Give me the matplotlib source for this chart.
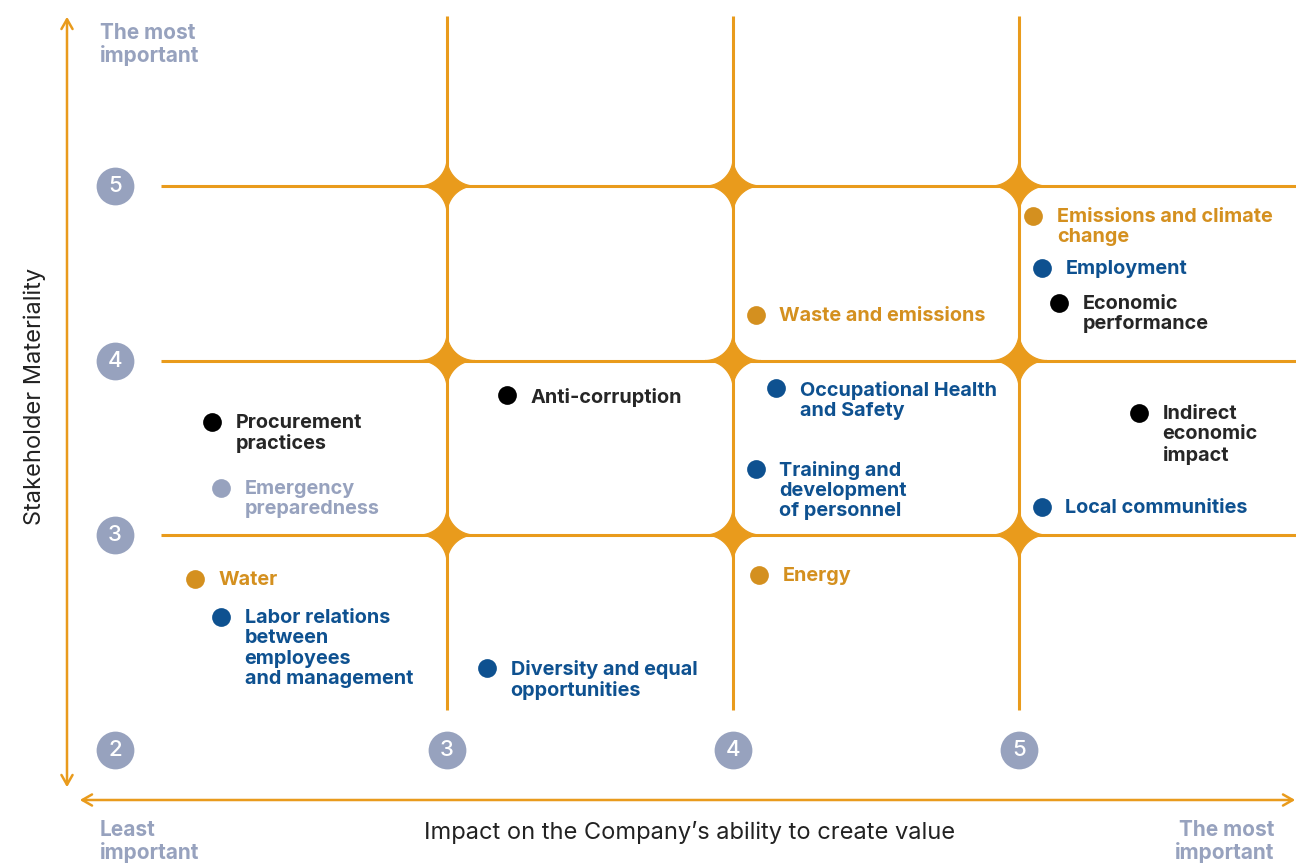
import numpy as np
import matplotlib
matplotlib.use("Agg")
import matplotlib.pyplot as plt
from matplotlib.patches import Polygon

plt.rcParams['font.family'] = ['Inter', 'DejaVu Sans']

# topics on the materiality matrix
topics = [
    "Emissions and climate\nchange", "Employment", "Economic\nperformance",
    "Waste and emissions", "Occupational Health\nand Safety",
    "Training and\ndevelopment\nof personnel", "Energy", "Anti-corruption",
    "Procurement\npractices", "Emergency\npreparedness", "Water",
    "Labor relations\nbetween\nemployees\nand management",
    "Diversity and equal\nopportunities", "Indirect\neconomic\nimpact",
    "Local communities",
]
impact = [5.05, 5.08, 5.14, 4.08, 4.15, 4.08, 4.09, 3.21, 2.18, 2.21, 2.12,
          2.21, 3.14, 5.42, 5.08]
stakeholder = [4.83, 4.53, 4.33, 4.26, 3.84, 3.38, 2.77, 3.80, 3.65, 3.27,
               2.75, 2.53, 2.24, 3.70, 3.16]
group = ["env", "social", "econ", "env", "social", "social", "env", "econ",
         "econ", "other", "env", "social", "social", "econ", "social"]

grid_vals = [3, 4, 5]
badge_labels = ["2", "3", "4", "5"]

ORANGE = "#E99B1C"
dot_col = {"env": "#D4901F", "social": "#0E5190", "econ": "#000000", "other": "#97A2BE"}
txt_col = {"env": "#D4901F", "social": "#0E5190", "econ": "#262626", "other": "#97A2BE"}
GREY = "#97A2BE"

PX_X = 286.0   # pixels per unit
PX_Y = 174.5

fig = plt.figure(figsize=(12.96, 8.63), dpi=100)
ax = fig.add_axes([0, 0, 1, 1])
ax.set_xlim(4 - 733 / PX_X, 4 + 563 / PX_X)
ax.set_ylim(3 - 328 / PX_Y, 3 + 535 / PX_Y)
ax.axis("off")

def px(x):
    return 4 + (x - 733) / PX_X

def py(y):
    return 3 + (535 - y) / PX_Y

x_lo, x_hi = 2.0, ax.get_xlim()[1]
y_lo, y_hi = 2.0, py(16)

# grid lines
for v in grid_vals:
    ax.plot([v, v], [y_lo, y_hi], color=ORANGE, lw=2.2, solid_capstyle="butt", zorder=1)
    ax.plot([x_lo, x_hi], [v, v], color=ORANGE, lw=2.2, solid_capstyle="butt", zorder=1)

# concave star at each crossing (rounded cell corners)
rx, ry = 28 / PX_X, 28 / PX_Y
def star(x, y):
    pts = []
    for (cx, cy, a0, a1) in [(x + rx, y + ry, -np.pi / 2, -np.pi),
                             (x - rx, y + ry, 0, -np.pi / 2),
                             (x - rx, y - ry, np.pi / 2, 0),
                             (x + rx, y - ry, np.pi, np.pi / 2)]:
        t = np.linspace(a0, a1, 30)
        pts.append(np.column_stack([cx + rx * np.cos(t), cy + ry * np.sin(t)]))
    return np.vstack(pts)

for gx in grid_vals:
    for gy in grid_vals:
        ax.add_patch(Polygon(star(gx, gy), closed=True, facecolor=ORANGE,
                             edgecolor=ORANGE, lw=0.8, zorder=2))

# axis badges
bx = [px(115)] + grid_vals
by_pos = py(750)
for lab, xv in zip(badge_labels, bx):
    ax.scatter([xv], [by_pos], s=740, color=GREY, zorder=3, linewidths=0)
    ax.text(xv, by_pos, lab, color="white", fontsize=16, fontweight="medium",
            ha="center", va="center", zorder=4)
for lab, yv in zip(badge_labels[1:], grid_vals):
    ax.scatter([bx[0]], [yv], s=740, color=GREY, zorder=3, linewidths=0)
    ax.text(bx[0], yv, lab, color="white", fontsize=16, fontweight="medium",
            ha="center", va="center", zorder=4)

# arrows
arrow = dict(arrowstyle="<->,head_length=0.7,head_width=0.4", color=ORANGE, lw=1.8)
ax.annotate("", xy=(px(67), py(14)), xytext=(px(67), py(790)),
            arrowprops=arrow, annotation_clip=False)
ax.annotate("", xy=(px(1298), py(800)), xytext=(px(77), py(800)),
            arrowprops=arrow, annotation_clip=False)

# points and labels
for name, xv, yv, g in zip(topics, impact, stakeholder, group):
    ax.plot(xv, yv, "o", ms=13.5, color=dot_col[g], mec="none", zorder=5)
    ax.annotate(name, (xv, yv), xytext=(17, 5.5), textcoords="offset points",
                ha="left", va="top", fontsize=14.3, fontweight="bold",
                color=txt_col[g], linespacing=1.15, zorder=5)

# axis titles
ax.text(px(35), py(396), "Stakeholder Materiality",
        rotation=90, ha="center", va="center", fontsize=17, color="#222222")
ax.text(px(690), py(832), "Impact on the Company\u2019s ability to create value",
        ha="center", va="center", fontsize=17, color="#222222")

# corner notes
note = dict(fontsize=15, fontweight="bold", color=GREY, linespacing=1.1, va="top")
ax.text(px(100), py(23), "The most\nimportant", ha="left", **note)
ax.text(px(100), py(820), "Least\nimportant", ha="left", **note)
ax.text(px(1274), py(820), "The most\nimportant", ha="right", **note)

fig.savefig("out.png", dpi=100)
